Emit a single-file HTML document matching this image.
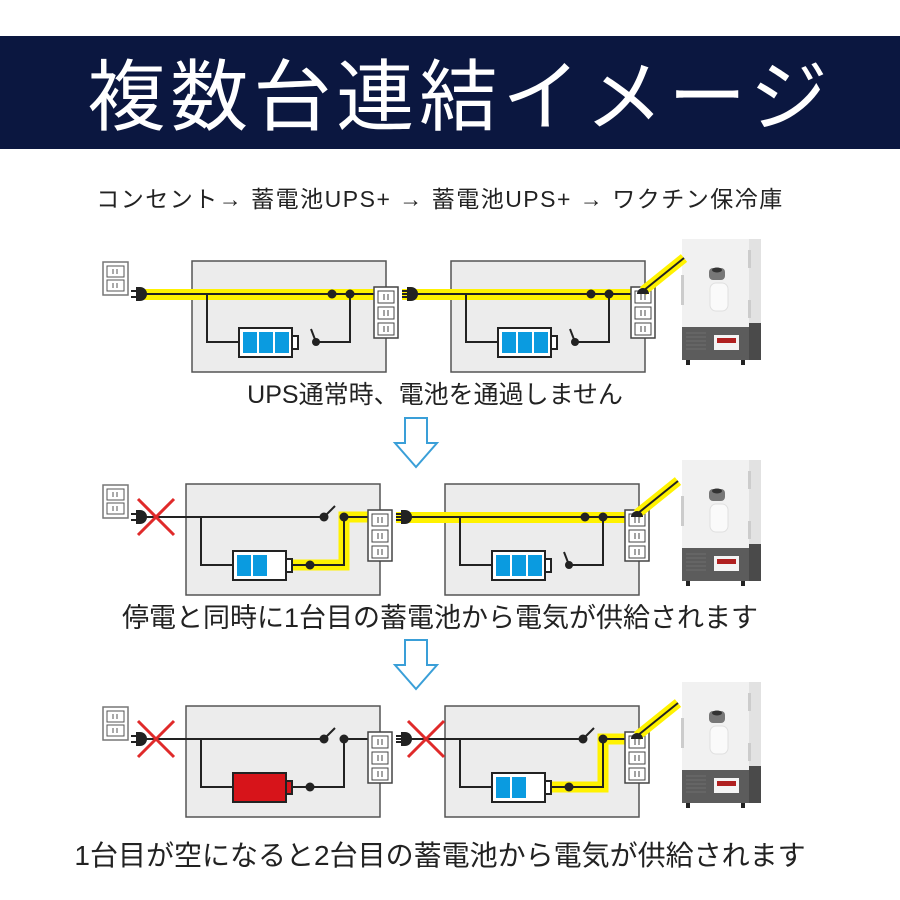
<!DOCTYPE html>
<html><head><meta charset="utf-8">
<style>
html,body{margin:0;padding:0;background:#fff;}
body{width:900px;height:900px;overflow:hidden;position:relative;font-family:"Liberation Sans","Noto Sans CJK JP",sans-serif;}
.banner{position:absolute;left:0;top:36px;width:900px;height:113px;background:#0b1740;}
.title{position:absolute;left:10px;top:36px;width:900px;height:113px;line-height:110px;text-align:center;color:#fff;font-size:78px;font-weight:400;letter-spacing:5px;font-family:"Noto Sans CJK JP",sans-serif;}
.t{position:absolute;left:0;width:900px;text-align:center;color:#222;white-space:nowrap;}
svg{position:absolute;left:0;top:0;}
</style></head><body>
<div class="banner"></div>
<div class="title">複数台連結イメージ</div>
<div class="t" style="top:180px;font-size:23px;left:-10px;letter-spacing:1.5px;">コンセント→ 蓄電池UPS+ → 蓄電池UPS+ → ワクチン保冷庫</div>
<div class="t" style="top:375px;font-size:25px;left:-15px;">UPS通常時、電池を通過しません</div>
<div class="t" style="top:596px;font-size:27px;left:-10px;">停電と同時に1台目の蓄電池から電気が供給されます</div>
<div class="t" style="top:834px;font-size:28px;left:-10px;">1台目が空になると2台目の蓄電池から電気が供給されます</div>
<svg width="900" height="900" viewBox="0 0 900 900">
<defs>
 <g id="wall">
  <rect x="103" y="262" width="25" height="33" fill="#fff" stroke="#777" stroke-width="1.5"/>
  <rect x="107" y="266" width="17" height="11" fill="#fff" stroke="#555"/>
  <rect x="107" y="280" width="17" height="11" fill="#fff" stroke="#555"/>
  <path d="M113 269v5M117 269v5M113 283v5M117 283v5" stroke="#555" stroke-width="1"/>
 </g>
 <g id="plug">
  <path d="M0 -3h-5M0 3h-5" stroke="#222" stroke-width="2"/>
  <path d="M0 -7h4a7 7 0 0 1 0 14h-4z" fill="#222"/>
 </g>
 <g id="strip">
  <rect x="0" y="0" width="24" height="51" fill="#fff" stroke="#444" stroke-width="1.5"/>
  <rect x="4" y="4" width="16" height="12" fill="#fff" stroke="#444"/>
  <rect x="4" y="20" width="16" height="12" fill="#fff" stroke="#444"/>
  <rect x="4" y="36" width="16" height="12" fill="#fff" stroke="#444"/>
  <path d="M10 7v6M14 7v6M10 23v6M14 23v6M10 39v6M14 39v6" stroke="#444"/>
 </g>
 <g id="batt">
  <rect x="0" y="0" width="53" height="29" fill="#fff" stroke="#222" stroke-width="2"/>
  <rect x="53" y="8" width="6" height="13" fill="#fff" stroke="#222" stroke-width="2"/>
 </g>
 <g id="fridge">
  <rect x="682" y="239" width="67" height="88" fill="#f1f1f1"/>
  <rect x="749" y="239" width="12" height="88" fill="#e2e2e2"/>
  <rect x="682" y="327" width="67" height="33" fill="#5c5c5c"/>
  <rect x="749" y="323" width="12" height="37" fill="#4a4a4a"/>
  <rect x="681" y="275" width="3" height="30" fill="#ccc"/>
  <rect x="748" y="250" width="3" height="18" fill="#ccc"/>
  <rect x="748" y="300" width="3" height="18" fill="#ccc"/>
  <rect x="710" y="283" width="18" height="28" rx="6" fill="#fafafa" stroke="#e0e0e0"/>
  <rect x="709" y="268" width="16" height="12" rx="4" fill="#777"/>
  <ellipse cx="717" cy="270" rx="5" ry="2.5" fill="#333"/>
  <path d="M686 333h20M686 337h20M686 341h20M686 345h20M686 349h20" stroke="#6e6e6e"/>
  <rect x="714" y="335" width="25" height="15" fill="#f4f4f4"/>
  <rect x="717" y="338" width="19" height="5" fill="#b02020"/>
  <rect x="686" y="360" width="4" height="5" fill="#222"/>
  <rect x="741" y="360" width="4" height="5" fill="#222"/>
 </g>
 <g id="upsNormal">
  <rect x="192" y="261" width="194" height="111" fill="#ececec" stroke="#555" stroke-width="1.5"/>
  <rect x="143" y="289" width="232" height="11" fill="#fff200"/>
  <path d="M143 294H375" stroke="#222" stroke-width="2"/>
  <path d="M207 294V342H239" fill="none" stroke="#222" stroke-width="2"/>
  <use href="#batt" x="239" y="328"/>
  <rect x="243" y="332" width="14" height="21" fill="#0a9be0"/>
  <rect x="259" y="332" width="14" height="21" fill="#0a9be0"/>
  <rect x="275" y="332" width="14" height="21" fill="#0a9be0"/>
  <path d="M350 294V342H316M316 342L311 329" fill="none" stroke="#222" stroke-width="2"/>
  <circle cx="316" cy="342" r="4" fill="#222"/>
  <circle cx="332" cy="294" r="4.5" fill="#222"/>
  <circle cx="350" cy="294" r="4.5" fill="#222"/>
 </g>
 <g id="upsBatt">
  <rect x="192" y="261" width="194" height="111" fill="#ececec" stroke="#555" stroke-width="1.5"/>
  <path d="M298 342H350V294H375" fill="none" stroke="#fff200" stroke-width="11"/>
  <path d="M143 294H330M350 294H375" stroke="#222" stroke-width="2"/>
  <path d="M330 294L341 283" stroke="#222" stroke-width="2"/>
  <circle cx="330" cy="294" r="4.5" fill="#222"/>
  <path d="M207 294V342H239" fill="none" stroke="#222" stroke-width="2"/>
  <use href="#batt" x="239" y="328"/>
  <rect x="243" y="332" width="14" height="21" fill="#0a9be0"/>
  <rect x="259" y="332" width="14" height="21" fill="#0a9be0"/>
  <path d="M298 342H350V294" fill="none" stroke="#222" stroke-width="2"/>
  <circle cx="316" cy="342" r="4.5" fill="#222"/>
  <circle cx="350" cy="294" r="4.5" fill="#222"/>
 </g>
 <g id="upsEmpty">
  <rect x="192" y="261" width="194" height="111" fill="#ececec" stroke="#555" stroke-width="1.5"/>
  <path d="M143 294H330M350 294H375" stroke="#222" stroke-width="2"/>
  <path d="M330 294L341 283" stroke="#222" stroke-width="2"/>
  <circle cx="330" cy="294" r="4.5" fill="#222"/>
  <path d="M207 294V342H239" fill="none" stroke="#222" stroke-width="2"/>
  <rect x="239" y="328" width="53" height="29" fill="#d7141a" stroke="#222" stroke-width="2"/>
  <rect x="292" y="336" width="6" height="13" fill="#d7141a" stroke="#222" stroke-width="2"/>
  <path d="M298 342H350V294" fill="none" stroke="#222" stroke-width="2"/>
  <circle cx="316" cy="342" r="4.5" fill="#222"/>
  <circle cx="350" cy="294" r="4.5" fill="#222"/>
 </g>
 <g id="cross"><path d="M-18 -18L18 18M18 -18L-18 18" stroke="#e02a2a" stroke-width="3"/></g>
 <g id="downArrow">
  <path d="M405 418H427V443H437L416 467L395 443H405Z" fill="#fff" stroke="#3a9fd8" stroke-width="2"/>
 </g>
 <g id="feed">
  <path d="M643 291L684 258" stroke="#fff200" stroke-width="10"/>
  <path d="M643 291L684 258" stroke="#222" stroke-width="2"/>
  <path d="M637 294a6 6 0 0 1 12 0z" fill="#222"/>
 </g>
</defs>

<use href="#wall"/>
<use href="#upsNormal"/>
<use href="#plug" x="136" y="294"/>
<use href="#upsNormal" x="259"/>
<rect x="415" y="289" width="40" height="11" fill="#fff200"/>
<path d="M415 294H455" stroke="#222" stroke-width="2"/>
<use href="#plug" x="407" y="294"/>
<use href="#strip" x="374" y="287"/>
<use href="#strip" x="631" y="287"/>
<use href="#fridge"/>
<use href="#feed"/>

<use href="#downArrow"/>
<use href="#downArrow" y="222"/>

<g transform="translate(-6,223)">
 <use href="#wall" x="6"/>
 <use href="#upsBatt"/>
 <use href="#plug" x="142" y="294"/>
 <use href="#cross" x="162" y="294"/>
 <use href="#upsNormal" x="259"/>
 <rect x="413" y="289" width="42" height="11" fill="#fff200"/>
 <path d="M413 294H455" stroke="#222" stroke-width="2"/>
 <use href="#plug" x="407" y="294"/>
 <use href="#strip" x="374" y="287"/>
 <use href="#strip" x="631" y="287"/>
 <use href="#fridge" x="6" y="-2"/>
 <use href="#feed"/>
</g>

<g transform="translate(-6,445)">
 <use href="#wall" x="6"/>
 <use href="#upsEmpty"/>
 <use href="#plug" x="142" y="294"/>
 <use href="#cross" x="162" y="294"/>
 <use href="#upsBatt" x="259"/>
 <path d="M413 294H455" stroke="#222" stroke-width="2"/>
 <use href="#plug" x="407" y="294"/>
 <use href="#cross" x="432" y="294"/>
 <use href="#strip" x="374" y="287"/>
 <use href="#strip" x="631" y="287"/>
 <use href="#fridge" x="6" y="-2"/>
 <use href="#feed"/>
</g>
</svg>
</body></html>
